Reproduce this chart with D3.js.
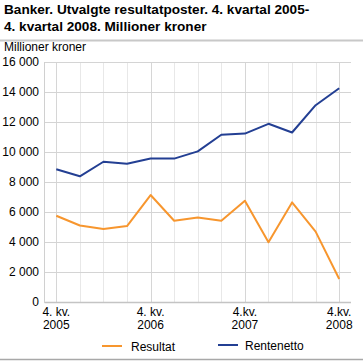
<!DOCTYPE html>
<html>
<head>
<meta charset="utf-8">
<script src="https://cdn.jsdelivr.net/npm/d3@7"></script>
<style>
  body { margin: 0; background: #fff; }
  svg { font-family: "Liberation Sans", Arial, sans-serif; display: block; }
</style>
</head>
<body>
<div id="chart"></div>
<script>
// quarters, 4. kv. 2005 - 4. kv. 2008
var quarters = ["2005K4", "2006K1", "2006K2", "2006K3", "2006K4", "2007K1", "2007K2",
    "2007K3", "2007K4", "2008K1", "2008K2", "2008K3", "2008K4"];
var resultat = [5750, 5100, 4870, 5060, 7130, 5420, 5640, 5420, 6750, 3980, 6640, 4690, 1530];
var rentenetto = [8850, 8380, 9350, 9220, 9560, 9560, 10040, 11150, 11230, 11880, 11300, 13120, 14250];
var yTicks = [0, 2000, 4000, 6000, 8000, 10000, 12000, 14000, 16000];
var xLabels = {
    "2005K4": ["4. kv.", "2005"],
    "2006K4": ["4. kv.", "2006"],
    "2007K4": ["4.kv.", "2007"],
    "2008K4": ["4.kv.", "2008"]
};
var series = [
    { name: "Resultat", values: resultat, color: "#f7962e" },
    { name: "Rentenetto", values: rentenetto, color: "#233f93" }
];

var W = 363, H = 362;
var m = { top: 62, right: 12, bottom: 60, left: 44.5 };

var svg = d3.select("#chart").append("svg")
    .attr("width", W)
    .attr("height", H);

// title
var title = svg.append("text")
    .attr("y", 14)
    .style("font-size", "13.6px")
    .style("font-weight", "bold")
    .attr("fill", "#000");
title.append("tspan").attr("x", 4).text("Banker. Utvalgte resultatposter. 4. kvartal 2005-");
title.append("tspan").attr("x", 4).attr("dy", 16.5).text("4. kvartal 2008. Millioner kroner");

svg.append("line")
    .attr("x1", 0).attr("x2", W)
    .attr("y1", 40.5).attr("y2", 40.5)
    .attr("stroke", "#c8c8c8")
    .attr("stroke-width", 2);

svg.append("text")
    .attr("x", 4)
    .attr("y", 51)
    .style("font-size", "12px")
    .attr("fill", "#000")
    .text("Millioner kroner");

var x = d3.scalePoint()
    .domain(quarters)
    .range([m.left, W - m.right])
    .padding(0.5);

var y = d3.scaleLinear()
    .domain([0, 16000])
    .range([H - m.bottom, m.top]);

var fmt = function(d) {
    return d3.format(",")(d).replace(/,/g, " ");
};

// vertical grid
svg.append("g").selectAll("line")
    .data(quarters)
    .enter()
    .append("line")
    .attr("x1", function(d) { return Math.round(x(d)) + 0.5; })
    .attr("x2", function(d) { return Math.round(x(d)) + 0.5; })
    .attr("y1", y(16000))
    .attr("y2", y(0))
    .attr("stroke", function(d) { return xLabels[d] ? "#d6d6d6" : "#e8e8e8"; })
    .attr("stroke-width", 1);

// horizontal grid
svg.append("g").selectAll("line")
    .data(yTicks)
    .enter()
    .append("line")
    .attr("x1", m.left)
    .attr("x2", W - m.right)
    .attr("y1", function(d) { return Math.round(y(d)) + 0.5; })
    .attr("y2", function(d) { return Math.round(y(d)) + 0.5; })
    .attr("stroke", function(d) { return d === 0 ? "#c4c4c4" : "#d4d4d4"; })
    .attr("stroke-width", function(d) { return d === 0 ? 1.5 : 1; });

// left axis line
svg.append("line")
    .attr("x1", m.left).attr("x2", m.left)
    .attr("y1", y(16000)).attr("y2", y(0) + 1)
    .attr("stroke", "#d0d0d0");

// y labels
svg.append("g").selectAll("text")
    .data(yTicks)
    .enter()
    .append("text")
    .attr("x", 39)
    .attr("y", function(d) { return y(d) + 4; })
    .attr("text-anchor", "end")
    .style("font-size", "12px")
    .attr("fill", "#000")
    .text(fmt);

// x labels
var xl = svg.append("g").selectAll("text")
    .data(quarters.filter(function(d) { return xLabels[d]; }))
    .enter()
    .append("text")
    .attr("text-anchor", "middle")
    .style("font-size", "12px")
    .attr("fill", "#000");
xl.append("tspan")
    .attr("x", function(d) { return x(d); })
    .attr("y", y(0) + 14)
    .text(function(d) { return xLabels[d][0]; });
xl.append("tspan")
    .attr("x", function(d) { return x(d); })
    .attr("y", y(0) + 27)
    .text(function(d) { return xLabels[d][1]; });

// lines
var line = d3.line()
    .x(function(d, i) { return x(quarters[i]); })
    .y(function(d) { return y(d); });

svg.append("g").selectAll("path")
    .data(series)
    .enter()
    .append("path")
    .attr("d", function(d) { return line(d.values); })
    .attr("fill", "none")
    .attr("stroke", function(d) { return d.color; })
    .attr("stroke-width", 2)
    .attr("stroke-linejoin", "round");

// legend
var legendX = [102, 218];
var legend = svg.append("g").selectAll("g")
    .data(series)
    .enter()
    .append("g")
    .attr("transform", function(d, i) {
        return "translate(" + legendX[i] + "," + (i === 0 ? 346 : 345) + ")";
    });
legend.append("line")
    .attr("x1", 0).attr("x2", 20)
    .attr("stroke", function(d) { return d.color; })
    .attr("stroke-width", 2);
legend.append("text")
    .attr("x", function(d, i) { return i === 0 ? 29 : 27; })
    .attr("y", 5)
    .style("font-size", "12px")
    .attr("fill", "#000")
    .text(function(d) { return d.name; });

svg.append("line")
    .attr("x1", 0).attr("x2", W)
    .attr("y1", 359.5).attr("y2", 359.5)
    .attr("stroke", "#a8a8a8")
    .attr("stroke-width", 1.5);
</script>
</body>
</html>
